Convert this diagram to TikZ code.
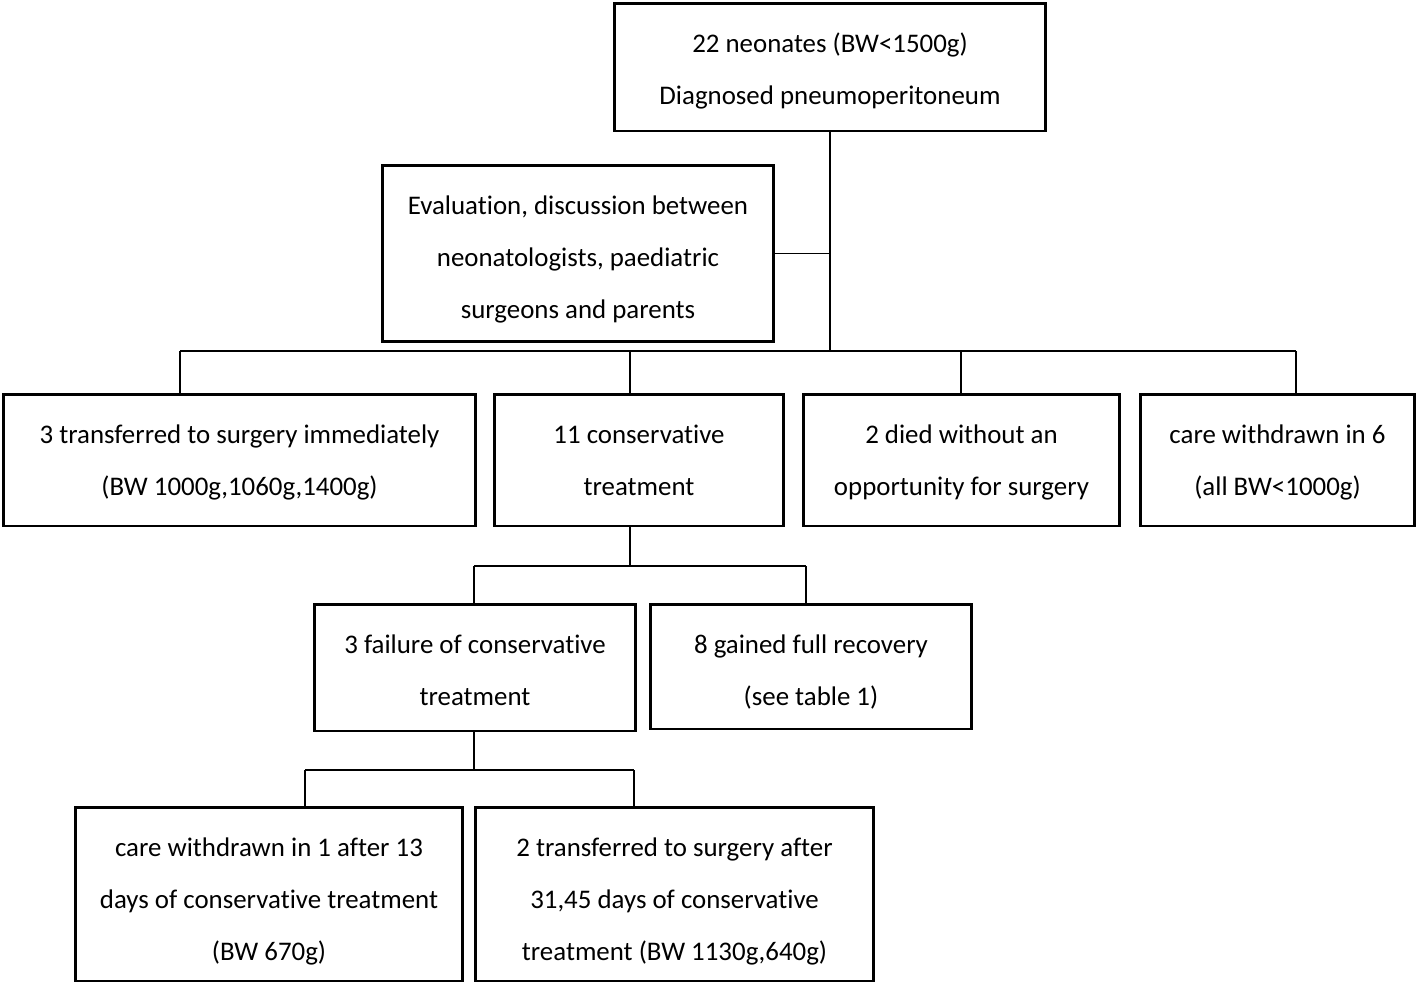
\documentclass[tikz,border=0pt]{standalone}
\usepackage{fontspec}
\setmainfont{Carlito}[Ligatures=NoCommon]
\usetikzlibrary{positioning}

\begin{document}
\begin{tikzpicture}[x=0.02cm,y=-0.02cm,
  box/.style 2 args={draw,line width=1.7pt,align=flush center,inner sep=0pt,
    font=\fontsize{15.3}{29.5}\selectfont,
    text width=#1,text height=0.99cm,text depth=#2},
  link/.style={line width=1.1pt}
]
\useasboundingbox (0,0) rectangle (1418,988);
% ---- boxes ----
\node[box={8.64cm}{1.57cm}] (top) at (830,67)
  {22 neonates (BW<1500g)\\Diagnosed pneumoperitoneum};
\node[box={7.84cm}{2.55cm}] (eval) at (578,253.5)
  {Evaluation, discussion between\\neonatologists, paediatric\\surgeons and parents};
\node[box={9.46cm}{1.65cm}] (surg) at (239.5,460)
  {3 transferred to surgery immediately\\(BW 1000g,1060g,1400g)};
\node[box={5.80cm}{1.65cm}] (cons) at (639,460)
  {11 conservative\\treatment};
\node[box={6.34cm}{1.65cm}] (died) at (961.5,460)
  {2 died without an\\opportunity for surgery};
\node[box={5.50cm}{1.65cm}] (withd) at (1277.5,460)
  {care withdrawn in 6\\(all BW<1000g)};
\node[box={6.44cm}{1.55cm}] (fail) at (475,667.5)
  {3 failure of conservative\\treatment};
\node[box={6.44cm}{1.51cm}] (recov) at (811,666.5)
  {8 gained full recovery\\(see table 1)};
\node[box={7.76cm}{2.49cm}] (late) at (269,894)
  {care withdrawn in 1 after 13\\days of conservative treatment\\(BW 670g)};
\node[box={7.98cm}{2.49cm}] (latesurg) at (674.5,894)
  {2 transferred to surgery after\\31,45 days of conservative\\treatment (BW 1130g,640g)};
% ---- bus points ----
\coordinate (b1) at (180,351);
\coordinate (b2) at (630,351);
\coordinate (b3) at (961,351);
\coordinate (b4) at (1296,351);
\coordinate (c1) at (474,566);
\coordinate (c2) at (806,566);
\coordinate (d1) at (305,770);
\coordinate (d2) at (634,770);
% ---- connectors ----
\draw[link] (top.south) -- (top.south |- b1);
\draw[link] (eval.east) -- (eval.east -| top.south);
\draw[link] (b1) -- (b4);
\foreach \b/\n in {b1/surg,b2/cons,b3/died,b4/withd}
  \draw[link] (\b) -- (\b |- \n.north);
\draw[link] (cons.south -| b2) -- (b2 |- c1);
\draw[link] (c1) -- (c2);
\draw[link] (c1) -- (c1 |- fail.north);
\draw[link] (c2) -- (c2 |- recov.north);
\draw[link] (fail.south -| c1) -- (c1 |- d1);
\draw[link] (d1) -- (d2);
\draw[link] (d1) -- (d1 |- late.north);
\draw[link] (d2) -- (d2 |- latesurg.north);
\end{tikzpicture}
\end{document}
